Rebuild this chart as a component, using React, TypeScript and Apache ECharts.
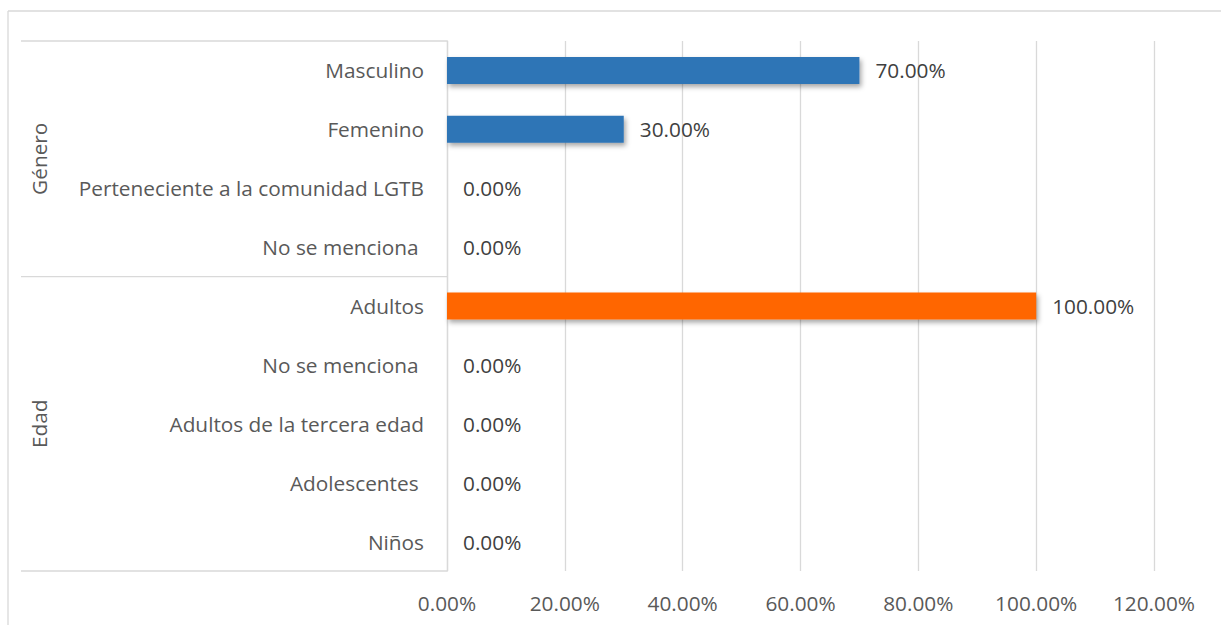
import React, { useEffect, useRef } from "react";
import * as echarts from "echarts";

const categories = [
  "Masculino",
  "Femenino",
  "Perteneciente a la comunidad LGTB",
  "No se menciona ",
  "Adultos",
  "No se menciona ",
  "Adultos de la tercera edad",
  "Adolescentes ",
  "Niños",
];
const values = [0.7, 0.3, 0, 0, 1, 0, 0, 0, 0];
const groupNames = ["Género", "Edad"];
const groupSizes = [4, 5];
const groupColors = ["#2E75B6", "#FF6600"];
const xTicks = [0, 0.2, 0.4, 0.6, 0.8, 1.0, 1.2];

const FONT = "Open Sans";
const FS = 20.8;
const LINE = "#D9D9D9";

const pct = (v: number) => (v * 100).toFixed(2) + "%";

export default function App() {
  const ref = useRef<HTMLDivElement>(null);
  useEffect(() => {
    if (!ref.current) return;
    const chart = echarts.init(ref.current, undefined, { renderer: "svg" });
    const colorOf: string[] = [];
    groupSizes.forEach((n, g) => {
      for (let i = 0; i < n; i++) colorOf.push(groupColors[g]);
    });
    chart.setOption({
      animation: false,
      grid: { left: 447, top: 41, right: 67, bottom: 54, containLabel: false },
      xAxis: {
        type: "value",
        min: xTicks[0],
        max: xTicks[xTicks.length - 1],
        interval: 0.2,
        axisLine: { show: false },
        axisTick: { show: false },
        splitLine: { show: true, lineStyle: { color: LINE, width: 1.3 } },
        axisLabel: {
          formatter: (v: number) => pct(v),
          fontFamily: FONT,
          fontSize: FS,
          color: "#595959",
          margin: 21,
        },
      },
      yAxis: {
        type: "category",
        inverse: true,
        data: categories,
        axisLine: { show: true, lineStyle: { color: LINE, width: 1.3 } },
        axisTick: { show: false },
        splitLine: { show: false },
        axisLabel: {
          fontFamily: FONT,
          fontSize: FS,
          color: "#595959",
          margin: 23,
        },
      },
      series: [
        {
          type: "bar",
          barWidth: 27,
          data: values.map((v, i) => ({
            value: v,
            itemStyle: {
              color: colorOf[i],
              shadowBlur: 5,
              shadowOffsetX: 2,
              shadowOffsetY: 3,
              shadowColor: "rgba(0,0,0,0.35)",
            },
          })),
          label: {
            show: true,
            position: "right",
            distance: 16,
            formatter: (p: any) => pct(p.value),
            fontFamily: FONT,
            fontSize: FS,
            color: "#404040",
          },
        },
      ],
    });

    const p0 = chart.convertToPixel({ yAxisIndex: 0 }, 0) as number;
    const p1 = chart.convertToPixel({ yAxisIndex: 0 }, 1) as number;
    const band = p1 - p0;
    const axisX = chart.convertToPixel({ xAxisIndex: 0 }, 0) as number;
    const boundary = (i: number) => p0 - band / 2 + i * band;
    const graphics: any[] = [
      { type: "line", shape: { x1: 8, y1: 11, x2: 1221, y2: 11 }, style: { stroke: LINE, lineWidth: 1.3 }, silent: true },
      { type: "line", shape: { x1: 8, y1: 11, x2: 8, y2: 625 }, style: { stroke: LINE, lineWidth: 1.3 }, silent: true },
    ];
    let start = 0;
    const bounds = [0];
    groupSizes.forEach((n) => {
      start += n;
      bounds.push(start);
    });
    bounds.forEach((b) => {
      const y = boundary(b);
      graphics.push({
        type: "line",
        shape: { x1: 21, y1: y, x2: axisX, y2: y },
        style: { stroke: LINE, lineWidth: 1.3 },
        silent: true,
      });
    });
    groupNames.forEach((name, g) => {
      const yc = (boundary(bounds[g]) + boundary(bounds[g + 1])) / 2;
      graphics.push({
        type: "text",
        x: 39,
        y: yc,
        rotation: Math.PI / 2,
        style: {
          text: name,
          fontFamily: FONT,
          fontSize: FS,
          fill: "#595959",
          align: "center",
          verticalAlign: "middle",
        },
        silent: true,
      });
    });
    chart.setOption({ graphic: graphics });
    return () => chart.dispose();
  }, []);
  return (
    <div
      ref={ref}
      style={{ position: "fixed", left: 0, top: 0, width: 1221, height: 625, background: "#fff" }}
    />
  );
}
